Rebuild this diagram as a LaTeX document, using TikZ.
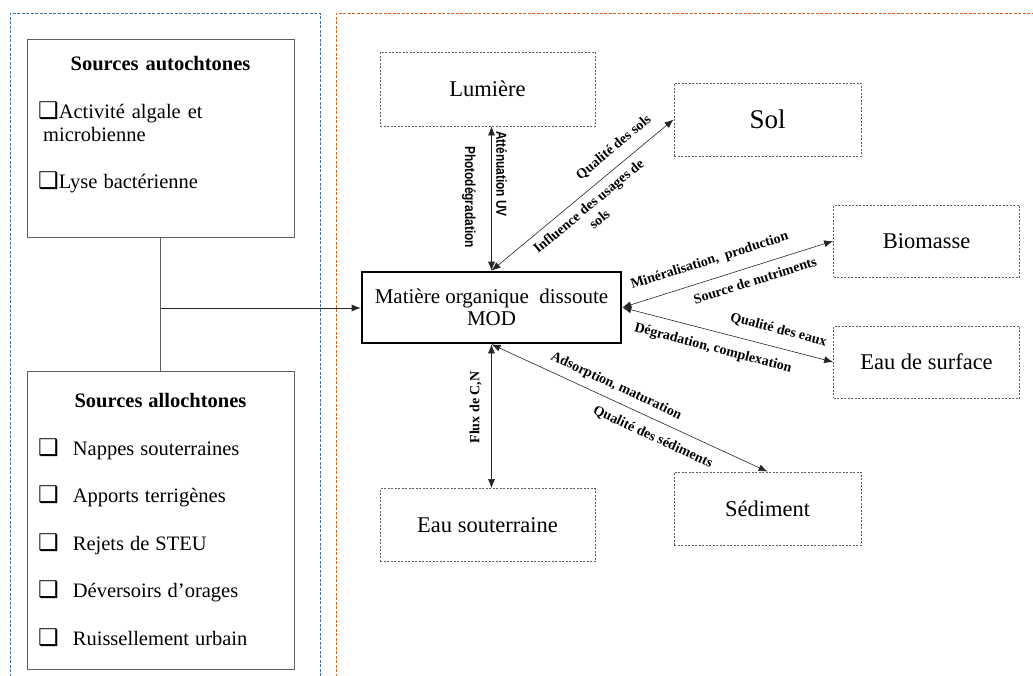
\documentclass[tikz,border=0pt]{standalone}
\usepackage{fontspec}
\setmainfont{Liberation Serif}
\newfontfamily\symfont{DejaVu Sans}
\newfontfamily\narrowsans[FakeStretch=0.82]{Liberation Sans}
\usetikzlibrary{arrows.meta,calc}
\definecolor{fblue}{RGB}{68,114,160}
\definecolor{forange}{RGB}{204,102,30}
\definecolor{dgray}{RGB}{95,95,95}
\newcommand{\setfs}[2]{\fontsize{#1}{#2}\selectfont}
\newcommand{\cbox}{{\symfont\setfs{23}{24}❑}}
\begin{document}
\begin{tikzpicture}[x=1pt,y=-1pt,
  solidbox/.style={draw=dgray, line width=0.9pt, inner sep=0pt},
  dbox/.style={draw=dgray, dash pattern=on 2pt off 1.5pt, line width=0.8pt, inner sep=0pt, font=\setfs{22.5}{26}},
  arr/.style={draw=black!85, line width=0.6pt, {Latex[length=9pt,width=7pt]}-{Latex[length=9pt,width=7pt]}},
  lab/.style={font=\bfseries\setfs{14}{17}, inner sep=0pt, align=center},
  slab/.style={font=\narrowsans\bfseries\setfs{14.5}{17}, inner sep=0pt},
  txt/.style={inner sep=0pt, font=\setfs{20.5}{24}},
  frame/.style={line width=0.9pt, dash pattern=on 3pt off 1.5pt},
]
\useasboundingbox (0,0) rectangle (1033,675);
\clip (0,0) rectangle (1033,675);

% frames
\draw[frame, draw=fblue] (10,690) -- (10,13) -- (320,13) -- (320,690);
\draw[frame, draw=forange] (336,690) -- (336,13) -- (1045,13);

% left boxes
\node[solidbox, minimum width=267, minimum height=198] (auto) at (160.5,138) {};
\node[solidbox, minimum width=267, minimum height=298] (allo) at (160.5,520) {};

\node[txt, font=\bfseries\setfs{20.5}{24}, anchor=base] (t1) at (160.5,70.7) {Sources\hspace{7pt}autochtones};
\node[txt, anchor=base west] (a1) at (38,118) {\cbox Activité\hspace{7pt}algale\hspace{7pt}et};
\node[txt, anchor=base west] (a2) at (43,141.7) {microbienne};
\node[txt, anchor=base west] (a3) at (38,188) {\cbox Lyse\hspace{6pt}bactérienne};

\node[txt, font=\bfseries\setfs{20.5}{24}, anchor=base] (t2) at (160.5,407.7) {Sources\hspace{6pt}allochtones};
\foreach \yy/\tt [count=\i] in {455.7/Nappes\hspace{6pt}souterraines, 502.7/Apports\hspace{6pt}terrigènes, 550/Rejets\hspace{6pt}de\hspace{6pt}STEU, 597.3/Déversoirs\hspace{6pt}d’orages, 645/Ruissellement\hspace{6pt}urbain}{
  \node[txt, anchor=base west] (cb\i) at (38,\yy) {\cbox};
  \node[txt, anchor=base west] (it\i) at (72.7,\yy) {\tt};
}

% main nodes
\node[draw=black, line width=2.6pt, inner sep=0pt, minimum width=259, minimum height=71, align=center, font=\setfs{21}{22}] (mod) at (491.5,307.5) {Matière organique\ \ dissoute\\MOD};
\node[dbox, minimum width=215, minimum height=74] (lum) at (487.5,89) {Lumière};
\node[dbox, minimum width=187, minimum height=73, font=\setfs{27}{30}] (sol) at (767.5,119.5) {Sol};
\node[dbox, minimum width=186, minimum height=72] (bio) at (926.5,241) {Biomasse};
\node[dbox, minimum width=186, minimum height=72] (eaux) at (926.5,362) {Eau de surface};
\node[dbox, minimum width=187, minimum height=73] (sed) at (767.5,508.5) {Sédiment};
\node[dbox, minimum width=215, minimum height=73] (eso) at (487.5,525) {Eau souterraine};

% sources connector
\draw[draw=dgray, line width=0.9pt] (auto.south) -- (allo.north);
\coordinate (j) at (160.5,308);
\draw[draw=black!85, line width=0.7pt, -{Latex[length=9pt,width=7pt]}] (j) -- (mod.west |- j);

% arrows
\draw[arr] (mod.north) -- (mod.north |- lum.south);
\draw[arr] (mod.north) -- (sol.west);
\draw[arr] (mod.east) -- (bio.west);
\draw[arr] (mod.east) -- (eaux.west);
\draw[arr] (mod.south) -- (sed.north);
\draw[arr] (mod.south) -- (mod.south |- eso.north);

% labels
\node[slab, rotate=-90] (lA) at (501.7,174) {Atténuation UV};
\node[slab, rotate=-90] (lP) at (469,197) {Photodégradation};
\node[lab, rotate=90] (lF) at (475.7,407.5) {Flux de C,N};

\node[lab, rotate=39.7] (lQs) at ($(mod.north)!0.73!(sol.west)!16.5pt!90:(sol.west)$) {Qualité des sols};
\node[lab, rotate=39.7] (lIn) at ($(mod.north)!0.49!(sol.west)!20.5pt!-90:(sol.west)$) {Influence des usages de\\sols};

\node[lab, rotate=17.5] (lMi) at ($(mod.east)!0.44!(bio.west)!18pt!90:(bio.west)$) {Minéralisation,\ \ production};
\node[lab, rotate=17.5] (lSo) at ($(mod.east)!0.61!(bio.west)!14pt!-90:(bio.west)$) {Source de nutriments};

\node[lab, rotate=-14.5] (lQe) at ($(mod.east)!0.72!(eaux.west)!17.5pt!90:(eaux.west)$) {Qualité des eaux};
\node[lab, rotate=-14.5] (lDe) at ($(mod.east)!0.45!(eaux.west)!17pt!-90:(eaux.west)$) {Dégradation,\ complexation};

\node[lab, rotate=-24.9] (lAd) at ($(mod.south)!0.43!(sed.north)!14pt!90:(sed.north)$) {Adsorption,\ maturation};
\node[lab, rotate=-24.9] (lQd) at ($(mod.south)!0.61!(sed.north)!16.7pt!-90:(sed.north)$) {Qualité des sédiments};
\end{tikzpicture}
\end{document}
